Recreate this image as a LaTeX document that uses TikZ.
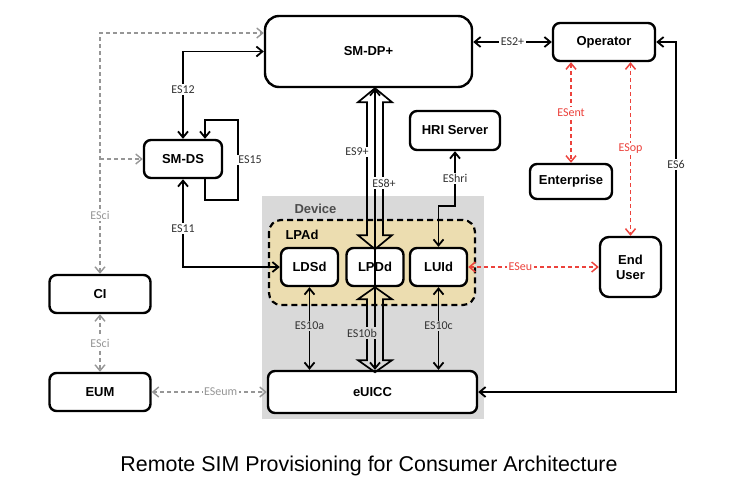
\documentclass[tikz,border=0pt]{standalone}
\usepackage{fontspec}
\setmainfont{Liberation Sans}
\newfontfamily\lblfont{Carlito}
\usetikzlibrary{arrows.meta,calc}
\definecolor{esred}{RGB}{236,66,60}
\definecolor{esgray}{RGB}{150,150,150}
\definecolor{devgray}{RGB}{217,217,217}
\definecolor{lpatan}{RGB}{236,221,176}
\tikzset{
	sb/.tip={Straight Barb[length=6pt,width=10pt]},
	box/.style={draw, line width=2.4pt, rounded corners=7pt, fill=white,
			font=\fontsize{13}{15}\selectfont\bfseries, align=center, inner sep=0pt},
	lbl/.style={fill=white, inner sep=1.5pt, text=black!80,
			font=\fontsize{12}{14}\selectfont\lblfont},
	link/.style={line width=1.8pt, {sb}-{sb}},
	redlink/.style={link, color=esred, line width=1.5pt, dash pattern=on 4pt off 3pt},
	graylink/.style={link, color=esgray, line width=1.4pt, dash pattern=on 4pt off 3pt},
	hollow/.style={line width=1.7pt}
}

\begin{document}
\begin{tikzpicture}[x=1pt,y=-1pt]
	\useasboundingbox (0,0) rectangle (738,499);
	% device and LPAd areas
	\fill[devgray] (262,196) rectangle (484,419);
	\draw[line width=2.2pt, dash pattern=on 6pt off 4pt, rounded corners=12pt, fill=lpatan] (269,220) rectangle (475,305);
	\node[anchor=west, text=black!70, font=\fontsize{13}{15}\selectfont\bfseries] (devlbl) at (291,209) {Device};
	\node[anchor=west, font=\fontsize{13}{15}\selectfont\bfseries] (lpalbl) at (282,235) {LPAd};

	% boxes
	\node[box, minimum width=207, minimum height=71, rounded corners=14pt] (smdp) at (368.5,51.5) {SM-DP+};
	\node[box, minimum width=102, minimum height=38] (operator) at (604,42) {Operator};
	\node[box, minimum width=78, minimum height=38] (smds) at (183,159) {SM-DS};
	\node[box, minimum width=90, minimum height=39] (hri) at (455,130.5) {HRI Server};
	\node[box, minimum width=82, minimum height=35] (enterprise) at (571,181.5) {Enterprise};
	\node[box, minimum width=101, minimum height=38] (ci) at (100,294) {CI};
	\node[box, minimum width=101, minimum height=38] (eum) at (100,392) {EUM};
	\node[box, minimum width=61, minimum height=60, rounded corners=9pt] (enduser) at (630.5,267) {End\\User};
	\node[box, minimum width=209, minimum height=42] (euicc) at (372.5,392) {eUICC};
	\node[box, minimum width=57, minimum height=38] (ldsd) at (309.5,267) {LDSd};
	\node[box, minimum width=57, minimum height=38] (lpdd) at (375,267) {LPDd};
	\node[box, minimum width=57, minimum height=38] (luid) at (438.5,267) {LUId};

	% black links
	\draw[link] (operator.west -| smdp.east) -- node[lbl]{ES2+} (operator.west);
	\draw[link] (smdp.west) -| node[lbl,pos=0.72]{ES12} (smds.north);
	\draw[link] (smds.south) |- node[lbl,pos=0.28]{ES11} (ldsd.west);
	\draw[line width=1.8pt, -{sb}] (smds.south -| 205,0) -- (205,200) -- (238,200)
		-- node[lbl,xshift=12pt]{ES15} (238,120) -- (205,120) -- (smds.north -| 205,0);
	\draw[link] (hri.south) -- node[lbl]{EShri} ++(0,55) -| (luid.north);
	\draw[link] (operator.east) -- (676,42) -- node[lbl,pos=0.35]{ES6} (676,392) -- (euicc.east);
	\draw[link] (ldsd.south) -- node[lbl,fill=devgray,pos=0.47]{ES10a} (euicc.north -| ldsd.south);
	\draw[link] (luid.south) -- node[lbl,fill=devgray,pos=0.47]{ES10c} (euicc.north -| luid.south);

	% hollow arrows ES9+ and ES10b
	\draw[hollow] (smdp.south -| lpdd.north) -- ++(17,14) -- ++(-9,0) -- ++(0,133) -- ++(9,0)
		-- ++(-17,14) -- ++(-17,-14) -- ++(9,0) -- ++(0,-133) -- ++(-9,0) -- cycle;
	\draw[hollow] (lpdd.south) -- ++(17,12) -- ++(-9,0) -- ++(0,61) -- ++(9,0)
		-- ++(-17,12) -- ++(-17,-12) -- ++(9,0) -- ++(0,-61) -- ++(-9,0) -- cycle;
	\draw[link] (smdp.south -| lpdd.north) -- (euicc.north -| lpdd.north);
	\node[lbl] (es9) at (357,152) {ES9+};
	\node[lbl] (es8) at (384,183) {ES8+};
	\node[lbl,fill=devgray] (es10b) at (362,333) {ES10b};

	% red links
	\draw[redlink] (enterprise.north |- operator.south) -- node[lbl,text=esred]{ESent} (enterprise.north);
	\draw[redlink] (enduser.north |- operator.south) -- node[lbl,text=esred]{ESop} (enduser.north);
	\draw[redlink] (luid.east) -- node[lbl,text=esred,pos=0.4]{ESeu} (enduser.west);

	% gray links
	\draw[graylink] (ci.north) -- node[lbl,text=esgray,pos=0.244]{ESci} (100,33) -- ([yshift=18.5pt]smdp.west);
	\draw[graylink,-{sb}] (100,159) -- (smds.west);
	\draw[graylink] (ci.south) -- node[lbl,text=esgray]{ESci} (eum.north);
	\draw[graylink] (eum.east) -- node[lbl,text=esgray,pos=0.6]{ESeum} (euicc.west);

	% caption
	\node[font=\fontsize{21.4}{25}\selectfont] (caption) at (369,466) {Remote SIM Provisioning for Consumer Architecture};
\end{tikzpicture}
\end{document}
